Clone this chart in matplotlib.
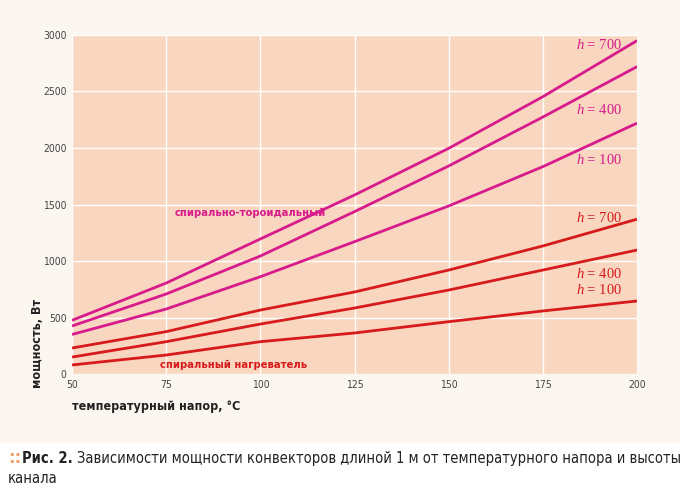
import matplotlib
matplotlib.use('Agg')
import matplotlib.pyplot as plt

plt.rcParams['mathtext.fontset'] = 'custom'
plt.rcParams['mathtext.it'] = 'Liberation Serif:italic'
plt.rcParams['mathtext.rm'] = 'Liberation Serif'

# температурный напор, °C
dt = [50, 75, 100, 125, 150, 175, 200]

# спирально-тороидальный (мощность, Вт)
tor_700 = [475, 805, 1195, 1584, 1997, 2454, 2950]
tor_400 = [425, 708, 1044, 1437, 1841, 2274, 2720]
tor_100 = [350, 575, 861, 1171, 1487, 1835, 2220]

# спиральный нагреватель
spi_700 = [230, 375, 566, 726, 920, 1133, 1370]
spi_400 = [150, 286, 442, 584, 743, 920, 1097]
spi_100 = [80, 168, 286, 363, 463, 558, 646]

xticks = [50, 75, 100, 125, 150, 175, 200]
yticks = [0, 500, 1000, 1500, 2000, 2500, 3000]

magenta = '#d81b8c'
red = '#d71a1c'
plot_bg = '#f8d6bf'
fig_bg = '#fcf6f1'
txt = '#222222'
cond = dict(family='DejaVu Sans', fontstretch='condensed')

fig = plt.figure(figsize=(6.8, 4.9), dpi=100, facecolor=fig_bg)
ax = fig.add_axes([0.1059, 0.2367, 0.8309, 0.6919])
ax.set_facecolor(plot_bg)

for y in [tor_700, tor_400, tor_100]:
    ax.plot(dt, y, color=magenta, lw=2, solid_capstyle='butt', zorder=3)
for y in [spi_700, spi_400, spi_100]:
    ax.plot(dt, y, color=red, lw=2, solid_capstyle='butt', zorder=3)

ax.set_xlim(50, 200)
ax.set_ylim(0, 3000)
ax.set_xticks(xticks, labels=[str(v) for v in xticks], fontsize=7.5, **cond)
ax.set_yticks(yticks, labels=[str(v) for v in yticks], fontsize=7.5, **cond)
ax.grid(True, color='white', lw=1)
ax.set_axisbelow(True)
for s in ax.spines.values():
    s.set_visible(False)
ax.tick_params(length=0, colors='#444444', pad=4)

# подписи кривых
hx = 196
ax.text(hx, 2912, r'$h$ = 700', color=magenta, ha='right', va='center', fontsize=10.5, family='Liberation Serif')
ax.text(hx, 2336, r'$h$ = 400', color=magenta, ha='right', va='center', fontsize=10.5, family='Liberation Serif')
ax.text(hx, 1894, r'$h$ = 100', color=magenta, ha='right', va='center', fontsize=10.5, family='Liberation Serif')
ax.text(hx, 1381, r'$h$ = 700', color=red, ha='right', va='center', fontsize=10.5, family='Liberation Serif')
ax.text(hx, 885, r'$h$ = 400', color=red, ha='right', va='center', fontsize=10.5, family='Liberation Serif')
ax.text(hx, 743, r'$h$ = 100', color=red, ha='right', va='center', fontsize=10.5, family='Liberation Serif')

ax.text(77.3, 1425, 'спирально-тороидальный', color=magenta, fontsize=8, fontweight='bold',
        ha='left', va='center', **cond)
ax.text(73.4, 80, 'спиральный нагреватель', color=red, fontsize=8, fontweight='bold',
        ha='left', va='center', **cond)

fig.text(0.106, 0.17, 'температурный напор, °C', fontsize=9, fontweight='bold',
         color=txt, ha='left', va='center', **cond)
fig.text(0.055, 0.30, 'мощность, Вт', fontsize=9, fontweight='bold', rotation=90,
         color=txt, ha='center', va='center', **cond)

# подпись рисунка
fig.patches.append(plt.Rectangle((0, 0), 1, 0.096, transform=fig.transFigure,
                                 facecolor='white', edgecolor='none', zorder=0))
fig.text(0.012, 0.065, '::', fontsize=12, fontweight='bold', color='#f0a070', ha='left', va='center')
t1 = fig.text(0.032, 0.065, 'Рис. 2.', fontsize=10.5, fontweight='bold',
              color=txt, ha='left', va='center', **cond)
renderer = fig.canvas.get_renderer()
bb = t1.get_window_extent(renderer)
x2 = (bb.x1 + 4) / fig.bbox.width
fig.text(x2, 0.065, 'Зависимости мощности конвекторов длиной 1 м от температурного напора и высоты',
         fontsize=10.5, color=txt, ha='left', va='center', **cond)
fig.text(0.012, 0.024, 'канала', fontsize=10.5, color=txt,
         ha='left', va='center', **cond)

fig.savefig('out.png', dpi=100, facecolor=fig_bg)
